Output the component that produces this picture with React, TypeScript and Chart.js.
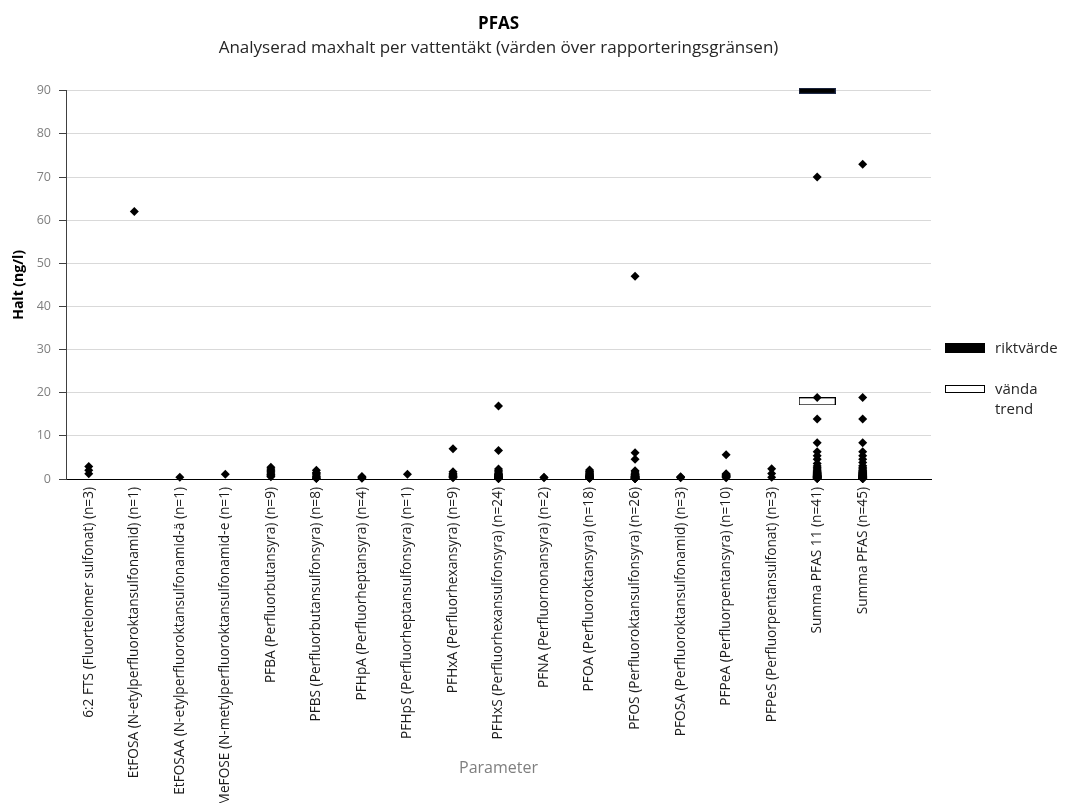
import React, { useEffect, useRef } from 'react';
import { Chart, registerables } from 'chart.js';

Chart.register(...registerables);

const categories = [
  '6:2 FTS (Fluortelomer sulfonat) (n=3)',
  'EtFOSA (N-etylperfluoroktansulfonamid) (n=1)',
  'EtFOSAA (N-etylperfluoroktansulfonamid-ä (n=1)',
  'MeFOSE (N-metylperfluoroktansulfonamid-e (n=1)',
  'PFBA (Perfluorbutansyra) (n=9)',
  'PFBS (Perfluorbutansulfonsyra) (n=8)',
  'PFHpA (Perfluorheptansyra) (n=4)',
  'PFHpS (Perfluorheptansulfonsyra) (n=1)',
  'PFHxA (Perfluorhexansyra) (n=9)',
  'PFHxS (Perfluorhexansulfonsyra) (n=24)',
  'PFNA (Perfluornonansyra) (n=2)',
  'PFOA (Perfluoroktansyra) (n=18)',
  'PFOS (Perfluoroktansulfonsyra) (n=26)',
  'PFOSA (Perfluoroktansulfonamid) (n=3)',
  'PFPeA (Perfluorpentansyra) (n=10)',
  'PFPeS (Perfluorpentansulfonat) (n=3)',
  'Summa PFAS 11 (n=41)',
  'Summa PFAS (n=45)',
  '',
];

const fts62 = [2.9, 2.0, 1.2];
const etfosa = [62];
const etfosaa = [0.4];
const mefose = [1.1];
const pfba = [2.7, 2.3, 2.0, 1.7, 1.4, 1.1, 0.9, 0.7, 0.5];
const pfbs = [2.0, 1.5, 1.2, 0.9, 0.6, 0.4, 0.2, 0.1];
const pfhpa = [0.6, 0.4, 0.3, 0.2];
const pfhps = [1.1];
const pfhxa = [7.0, 1.7, 1.3, 1.0, 0.8, 0.6, 0.5, 0.4, 0.3];
const pfhxs = [16.9, 6.6, 2.3, 1.9, 1.6, 1.3, 1.1, 1.0, 0.9, 0.8, 0.7, 0.6, 0.6, 0.5, 0.5, 0.4, 0.4, 0.3, 0.3, 0.3, 0.2, 0.2, 0.1, 0.1];
const pfna = [0.4, 0.3];
const pfoa = [2.1, 1.8, 1.6, 1.4, 1.2, 1.0, 0.9, 0.8, 0.7, 0.6, 0.5, 0.5, 0.4, 0.4, 0.3, 0.3, 0.2, 0.2];
const pfos = [47, 6.1, 4.6, 1.9, 1.6, 1.3, 1.1, 1.0, 0.9, 0.8, 0.7, 0.6, 0.6, 0.5, 0.5, 0.4, 0.4, 0.3, 0.3, 0.3, 0.2, 0.2, 0.2, 0.1, 0.1, 0.1];
const pfosa = [0.5, 0.4, 0.3];
const pfpea = [5.6, 1.2, 1.0, 0.9, 0.8, 0.7, 0.6, 0.5, 0.4, 0.3];
const pfpes = [2.4, 1.3, 0.4];
const summa11 = [70, 18.9, 13.9, 8.4, 6.3, 5.4, 4.6, 3.6, 3.0, 2.6, 2.3, 2.0, 1.8, 1.6, 1.5, 1.4, 1.3, 1.2, 1.1, 1.0, 0.9, 0.9, 0.8, 0.8, 0.7, 0.7, 0.6, 0.6, 0.5, 0.5, 0.5, 0.4, 0.4, 0.4, 0.3, 0.3, 0.3, 0.2, 0.2, 0.2, 0.1];
const summaAll = [73, 18.9, 13.9, 8.4, 6.3, 5.4, 4.6, 3.8, 3.1, 2.7, 2.4, 2.1, 1.9, 1.7, 1.6, 1.5, 1.4, 1.3, 1.2, 1.1, 1.0, 0.9, 0.9, 0.8, 0.8, 0.7, 0.7, 0.6, 0.6, 0.5, 0.5, 0.5, 0.4, 0.4, 0.4, 0.3, 0.3, 0.3, 0.2, 0.2, 0.2, 0.1, 0.1, 0.1, 0.1];

const seriesByCategory = [
  fts62, etfosa, etfosaa, mefose, pfba, pfbs, pfhpa, pfhps, pfhxa, pfhxs,
  pfna, pfoa, pfos, pfosa, pfpea, pfpes, summa11, summaAll,
];

const riktvardeCategory = 'Summa PFAS 11 (n=41)';
const riktvarde = [90];
const vandaTrend = [18];

const yTicksMin = 0;
const yTicksMax = 90;
const yTicksStep = 10;

const FONT = '"Open Sans", "DejaVu Sans", sans-serif';

function makeMarker(w: number, h: number, fill: string, stroke: string) {
  const c = document.createElement('canvas');
  c.width = w;
  c.height = h;
  const ctx = c.getContext('2d')!;
  ctx.fillStyle = fill;
  ctx.fillRect(0, 0, w, h);
  ctx.strokeStyle = stroke;
  ctx.lineWidth = 1;
  ctx.strokeRect(0.5, 0.5, w - 1, h - 1);
  return c;
}

const legendPlugin = {
  id: 'sideLegend',
  afterDraw(chart: any) {
    const { ctx, chartArea } = chart;
    const x0 = chartArea.right + 14;
    ctx.save();
    ctx.fillStyle = '#000';
    ctx.fillRect(x0, 343, 40, 10);
    ctx.fillStyle = '#fff';
    ctx.fillRect(x0, 385, 40, 8);
    ctx.strokeStyle = '#000';
    ctx.lineWidth = 1;
    ctx.strokeRect(x0 + 0.5, 385.5, 39, 7);
    ctx.fillStyle = '#262626';
    ctx.font = `15px ${FONT}`;
    ctx.textBaseline = 'middle';
    ctx.textAlign = 'left';
    ctx.fillText('riktvärde', x0 + 50, 349);
    ctx.fillText('vända', x0 + 50, 390);
    ctx.fillText('trend', x0 + 50, 410);
    ctx.restore();
  },
};

export default function App() {
  const ref = useRef<HTMLCanvasElement | null>(null);

  useEffect(() => {
    if (!ref.current) return;
    const points: { x: string; y: number }[] = [];
    seriesByCategory.forEach((vals, i) => {
      vals.forEach((v) => points.push({ x: categories[i], y: v }));
    });

    const riktMarker = makeMarker(37, 6, '#000000', '#1f2a48');
    const trendMarker = makeMarker(37, 8, '#ffffff', '#000000');

    const chart = new Chart(ref.current, {
      type: 'line',
      data: {
        labels: categories,
        datasets: [
          {
            label: 'Maxhalt',
            data: points,
            showLine: false,
            pointStyle: 'rectRot',
            pointRadius: 4.5,
            pointBorderWidth: 0,
            backgroundColor: '#000',
            borderColor: '#000',
            clip: false,
          } as any,
          {
            label: 'vända trend',
            data: vandaTrend.map((v) => ({ x: riktvardeCategory, y: v })),
            showLine: false,
            pointStyle: trendMarker,
            clip: false,
          } as any,
          {
            label: 'riktvärde',
            data: riktvarde.map((v) => ({ x: riktvardeCategory, y: v })),
            showLine: false,
            pointStyle: riktMarker,
            clip: false,
          } as any,
        ],
      },
      options: {
        animation: false,
        responsive: false,
        layout: { padding: { right: 140 } },
        plugins: {
          legend: { display: false },
          tooltip: { enabled: false },
          title: {
            display: true,
            text: 'PFAS',
            fullSize: false,
            color: '#000',
            font: { family: FONT, size: 17, weight: 'bold' },
            padding: { top: 14, bottom: 4 },
          },
          subtitle: {
            display: true,
            text: 'Analyserad maxhalt per vattentäkt (värden över rapporteringsgränsen)',
            fullSize: false,
            color: '#262626',
            font: { family: FONT, size: 17 },
            padding: { top: 0, bottom: 32 },
          },
        },
        scales: {
          x: {
            type: 'category',
            offset: true,
            grid: { display: false, drawTicks: false },
            border: { display: true, color: '#000', width: 1 },
            ticks: {
              autoSkip: false,
              minRotation: 90,
              maxRotation: 90,
              padding: 8,
              color: '#1a1a1a',
              font: { family: FONT, size: 13.7 },
            },
            title: {
              display: true,
              text: 'Parameter',
              color: '#7f7f7f',
              font: { family: FONT, size: 16 },
              padding: { top: 0, bottom: 25 },
            },
            afterFit: (s: any) => {
              s.height = 324;
            },
          },
          y: {
            min: yTicksMin,
            max: yTicksMax,
            ticks: {
              stepSize: yTicksStep,
              padding: 8,
              color: '#7f7f7f',
              font: { family: FONT, size: 12.5 },
            },
            grid: {
              color: '#d9d9d9',
              tickColor: '#404040',
              tickLength: 7,
              lineWidth: 1,
            },
            border: { display: true, color: '#404040', width: 1 },
            title: {
              display: true,
              text: 'Halt (ng/l)',
              color: '#000',
              font: { family: FONT, size: 14, weight: 'bold' },
              padding: { top: 11, bottom: 0 },
            },
            afterFit: (s: any) => {
              s.width = 66;
            },
          },
        },
      } as any,
      plugins: [legendPlugin],
    });

    return () => chart.destroy();
  }, []);

  return (
    <div style={{ position: 'absolute', left: 0, top: 0, width: 1071, height: 803, background: '#fff' }}>
      <canvas ref={ref} width={1071} height={803} style={{ display: 'block' }} />
    </div>
  );
}
